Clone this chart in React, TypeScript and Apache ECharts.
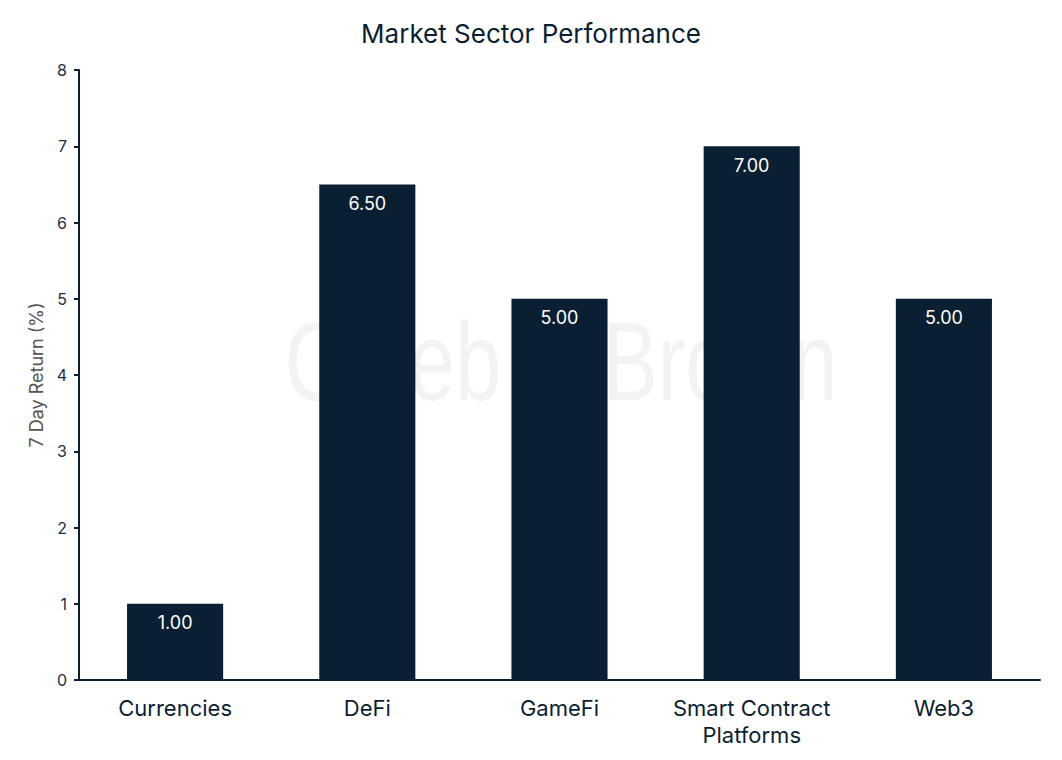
import React, { useEffect, useRef } from "react";
import * as echarts from "echarts";

const categories = ["Currencies", "DeFi", "GameFi", "Smart Contract\nPlatforms", "Web3"];
const returns = [1.0, 6.5, 5.0, 7.0, 5.0];
const yTicks = { min: 0, max: 8, interval: 1 };

const NAVY = "#0b1f33";
const FONT = "Inter, 'Noto Sans', sans-serif";

export default function App() {
  const ref = useRef<HTMLDivElement>(null);
  useEffect(() => {
    document.body.style.margin = "0";
    const chart = echarts.init(ref.current!, null, { renderer: "svg" });
    chart.setOption({
      animation: false,
      backgroundColor: "#ffffff",
      textStyle: { fontFamily: FONT },
      title: {
        text: "Market Sector Performance",
        left: "center",
        top: 15,
        textStyle: { fontFamily: FONT, fontSize: 26, fontWeight: "normal", color: NAVY },
      },
      graphic: [
        {
          type: "text",
          x: 561,
          y: 417,
          scaleX: 0.74,
          z: -10,
          silent: true,
          style: {
            text: "Caleb & Brown",
            fontFamily: "'Liberation Sans', Arial, sans-serif",
            fontSize: 112,
            fill: "#f3f3f3",
            textAlign: "center",
            textVerticalAlign: "bottom",
          },
        },
      ],
      grid: { left: 79, right: 22, top: 70, bottom: 80, containLabel: false },
      xAxis: {
        type: "category",
        data: categories,
        axisLine: { show: true, lineStyle: { color: NAVY, width: 2 } },
        axisTick: { show: false },
        axisLabel: {
          fontFamily: FONT,
          fontSize: 22,
          color: NAVY,
          margin: 14,
          lineHeight: 27,
          interval: 0,
        },
      },
      yAxis: {
        type: "value",
        min: yTicks.min,
        max: yTicks.max,
        interval: yTicks.interval,
        name: "7 Day Return (%)",
        nameLocation: "middle",
        nameGap: 32,
        nameTextStyle: { fontFamily: FONT, fontSize: 18, color: "#555555" },
        axisLine: { show: true, lineStyle: { color: NAVY, width: 2 } },
        axisTick: { show: true, length: 5, lineStyle: { color: NAVY, width: 2 } },
        splitLine: { show: false },
        axisLabel: { fontFamily: FONT, fontSize: 16, color: "#1e2d3d", margin: 12 },
      },
      series: [
        {
          type: "bar",
          data: returns,
          barWidth: "50%",
          itemStyle: { color: NAVY },
          label: {
            show: true,
            position: "insideTop",
            distance: 10,
            color: "#ffffff",
            fontFamily: FONT,
            fontSize: 18,
            formatter: (p: any) => Number(p.value).toFixed(2),
          },
        },
      ],
    });
    return () => chart.dispose();
  }, []);
  return <div ref={ref} style={{ width: 1062, height: 760 }} />;
}
